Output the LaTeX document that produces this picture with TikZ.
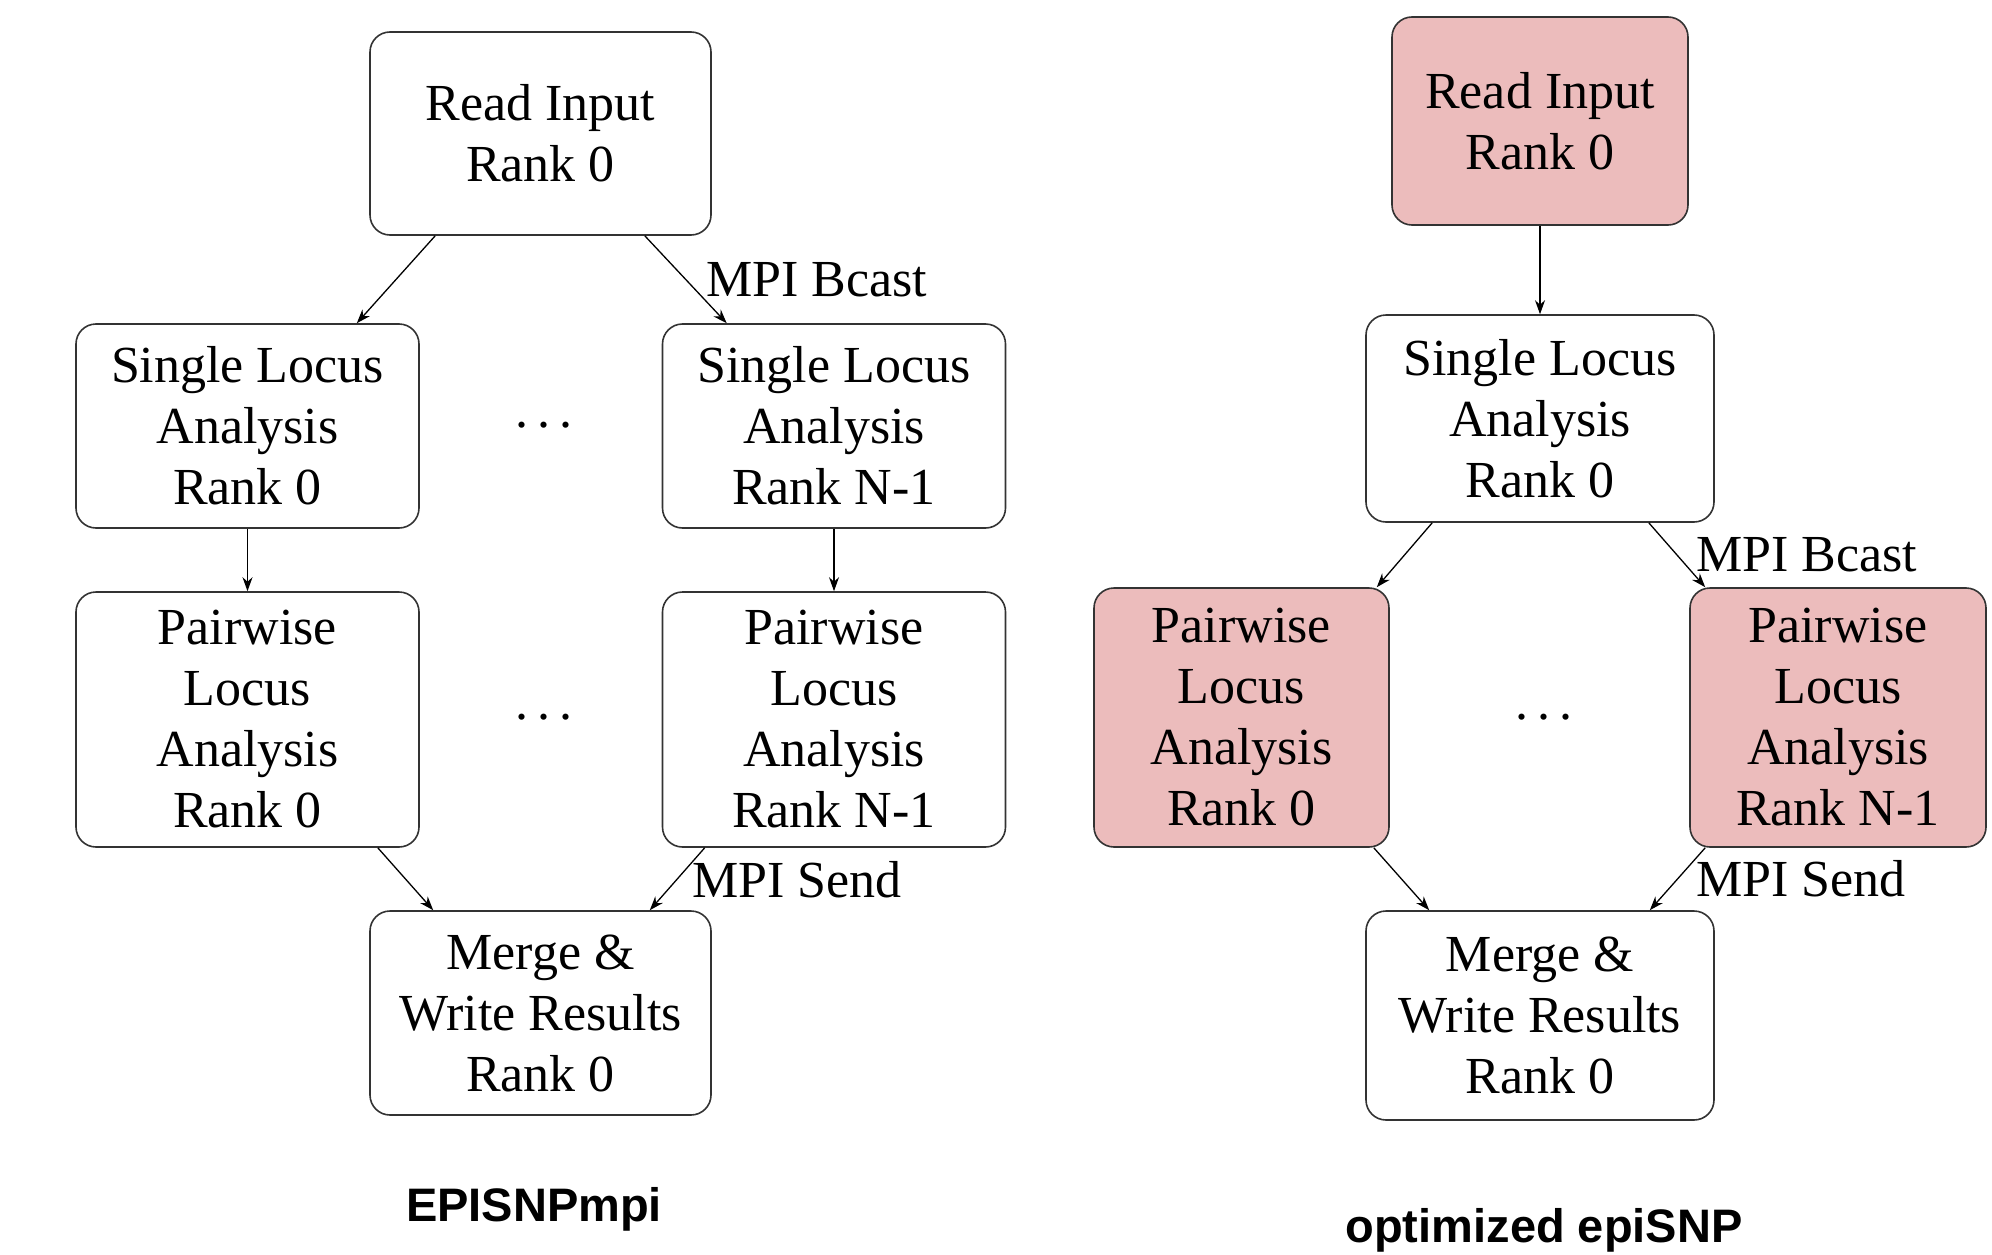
\documentclass[tikz,border=0pt]{standalone}
\usepackage{fontspec}
\setmainfont{Liberation Serif}
\newfontfamily\capfont{Liberation Sans}
\usetikzlibrary{arrows.meta,calc}
\definecolor{boxpink}{RGB}{236,188,188}
\newcommand{\threedots}{.\hspace{9pt}.\hspace{9pt}.}
\begin{document}
\begin{tikzpicture}[x=1pt,y=-1pt,
  box/.style={draw=black!80, line width=1.6pt, rounded corners=20pt, align=center,
    font=\fontsize{52}{61}\selectfont, inner sep=0pt},
  pinkbox/.style={box, fill=boxpink},
  arr/.style={-{Stealth[length=14pt,width=10pt]}, line width=1.3pt},
  lbl/.style={font=\fontsize{52}{61}\selectfont, anchor=west, inner sep=0pt},
  dotsnode/.style={font=\fontsize{52}{61}\selectfont, inner sep=0pt, anchor=base},
  captiontext/.style={font=\capfont\bfseries\fontsize{47}{56}\selectfont, inner sep=0pt}]
\fill[white] (0,0) rectangle (1992,1255);
\useasboundingbox (0,0) rectangle (1992,1255);

% ---------- left diagram ----------
\node[box, minimum width=341pt, minimum height=203pt] (lread) at (540.5,133.5) {Read Input\\Rank 0};
\node[box, minimum width=343pt, minimum height=204pt] (lsing0) at (247.5,426) {Single Locus\\Analysis\\Rank 0};
\node[box, minimum width=343pt, minimum height=204pt] (lsingN) at (834,426) {Single Locus\\Analysis\\Rank N-1};
\node[box, minimum width=343pt, minimum height=255pt] (lpair0) at (247.5,719.5) {Pairwise\\Locus\\Analysis\\Rank 0};
\node[box, minimum width=343pt, minimum height=255pt] (lpairN) at (834,719.5) {Pairwise\\Locus\\Analysis\\Rank N-1};
\node[box, minimum width=341pt, minimum height=204pt] (lmerge) at (540.5,1013) {Merge \&\\Write Results\\Rank 0};
\node[dotsnode] (ldots1) at (544,427) {\threedots};
\node[dotsnode] (ldots2) at (544,719) {\threedots};

\draw[arr] ([xshift=66pt]lread.south west) -- ([xshift=-63pt]lsing0.north east);
\draw[arr] ([xshift=-67pt]lread.south east) -- ([xshift=65pt]lsingN.north west);
\draw[arr] (lsing0) -- (lpair0);
\draw[arr] (lsingN) -- (lpairN);
\draw[arr] ([xshift=-42pt]lpair0.south east) -- ([xshift=64pt]lmerge.north west);
\draw[arr] ([xshift=43pt]lpairN.south west) -- ([xshift=-62pt]lmerge.north east);
\node[lbl] (lbcast) at (706,280) {MPI Bcast};
\node[lbl] (lsend) at (692,880) {MPI Send};
\node[captiontext] (lcap) at (534,1209) {EPISNPmpi};

% ---------- right diagram ----------
\node[pinkbox, minimum width=296pt, minimum height=208pt] (rread) at (1540,121) {Read Input\\Rank 0};
\node[box, minimum width=348pt, minimum height=207pt] (rsing) at (1540,418.5) {Single Locus\\Analysis\\Rank 0};
\node[pinkbox, minimum width=295pt, minimum height=259pt] (rpair0) at (1241.5,717.5) {Pairwise\\Locus\\Analysis\\Rank 0};
\node[pinkbox, minimum width=296pt, minimum height=259pt] (rpairN) at (1838,717.5) {Pairwise\\Locus\\Analysis\\Rank N-1};
\node[box, minimum width=348pt, minimum height=209pt] (rmerge) at (1540,1015.5) {Merge \&\\Write Results\\Rank 0};
\node[dotsnode] (rdots) at (1544,719) {\threedots};

\draw[arr] (rread) -- (rsing);
\draw[arr] ([xshift=67pt]rsing.south west) -- ([xshift=-13pt]rpair0.north east);
\draw[arr] ([xshift=-66pt]rsing.south east) -- ([xshift=16pt]rpairN.north west);
\draw[arr] ([xshift=-16pt]rpair0.south east) -- ([xshift=64pt]rmerge.north west);
\draw[arr] ([xshift=16pt]rpairN.south west) -- ([xshift=-65pt]rmerge.north east);
\node[lbl] (rbcast) at (1696,555) {MPI Bcast};
\node[lbl] (rsend) at (1696,879) {MPI Send};
\node[captiontext] (rcap) at (1544,1230) {optimized epiSNP};
\end{tikzpicture}
\end{document}
